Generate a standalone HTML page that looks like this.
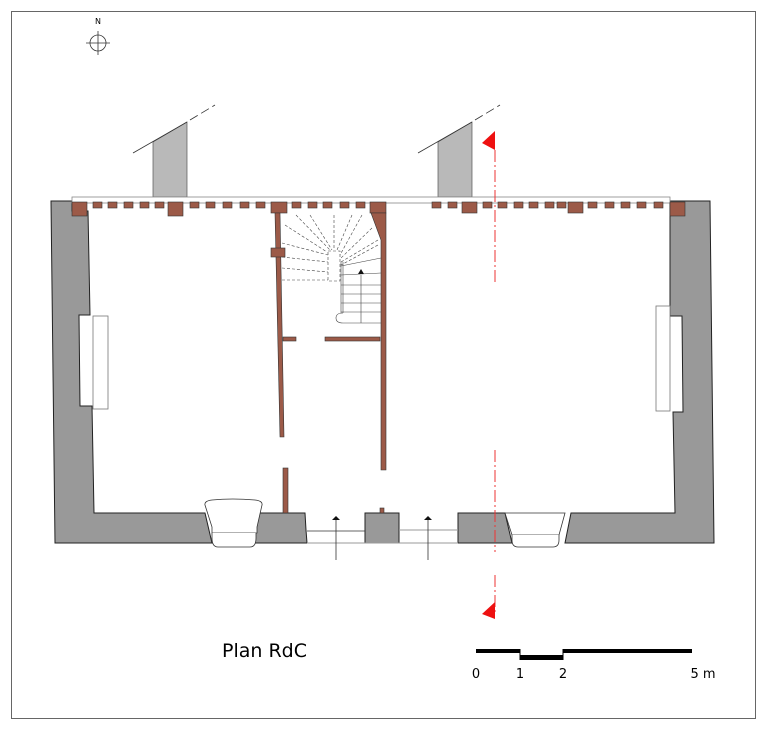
<!DOCTYPE html><html><head><style>body{margin:0;background:#fff}svg{display:block}text{font-family:"DejaVu Sans","Liberation Sans",sans-serif}</style></head><body>
<svg width="768" height="731" viewBox="0 0 768 731" xmlns="http://www.w3.org/2000/svg">
<rect x="11.5" y="11.5" width="744" height="707" fill="#fff" stroke="#666" stroke-width="1"/>
<!-- compass -->
<text x="98" y="24" font-size="8" text-anchor="middle">N</text>
<circle cx="98" cy="43" r="8" fill="none" stroke="#333" stroke-width="0.8"/>
<line x1="86" y1="43" x2="110" y2="43" stroke="#333" stroke-width="0.8"/><line x1="98" y1="31" x2="98" y2="55" stroke="#333" stroke-width="0.8"/>
<!-- chimneys -->
<polygon points="153,142 187,122 187,197 153,197" fill="#b9b9b9" stroke="#555" stroke-width="0.7"/>
<line x1="133" y1="153" x2="187" y2="122" stroke="#333" stroke-width="0.8"/>
<line x1="190" y1="120" x2="215" y2="105" stroke="#333" stroke-width="0.8" stroke-dasharray="9,4"/>
<polygon points="438,142 472,122 472,197 438,197" fill="#b9b9b9" stroke="#555" stroke-width="0.7"/>
<line x1="418" y1="153" x2="472" y2="122" stroke="#333" stroke-width="0.8"/>
<line x1="475" y1="120" x2="500" y2="105" stroke="#333" stroke-width="0.8" stroke-dasharray="9,4"/>
<!-- walls -->
<polygon points="51,201 72,201 72,211 88,211 90,315 79,315 80,406 92,406 94,513 205,513 212,543 55,543" fill="#999" stroke="#222" stroke-width="1"/>
<polygon points="670,201 710,201 714,543 565,543 571,513 675,513 673,412 683,412 682,316 670,316" fill="#999" stroke="#222" stroke-width="1"/>
<polygon points="257,513 305,513 306,530 307,543 250,543" fill="#999" stroke="#222" stroke-width="1"/>
<rect x="365" y="513" width="34" height="30" fill="#999" stroke="#222" stroke-width="1"/>
<polygon points="458,513 505,513 512,543 458,543" fill="#999" stroke="#222" stroke-width="1"/>
<line x1="307" y1="531" x2="365" y2="531" stroke="#333" stroke-width="0.8"/>
<line x1="399" y1="530" x2="458" y2="530" stroke="#999" stroke-width="1"/>
<line x1="307" y1="543" x2="458" y2="543" stroke="#999" stroke-width="1"/>
<!-- niches -->
<rect x="93" y="316" width="15" height="93" fill="#fff" stroke="#777" stroke-width="0.8"/>
<rect x="656" y="306" width="14" height="105" fill="#fff" stroke="#777" stroke-width="0.8"/>
<!-- windows -->
<path d="M205,505 Q204,501 212,500 Q232,498 255,500 Q263,501 262,505 L257,527 L257,533 L212,533 L212,527 Z" fill="#fff" stroke="#333" stroke-width="0.8"/>
<path d="M212,533 L212,538 Q212,547 218,547 L250,547 Q256,547 256,538 L256,533" fill="#fff" stroke="#333" stroke-width="0.8"/>
<path d="M505,513 L565,513 L559,535 L512,535 Z" fill="#fff" stroke="#333" stroke-width="0.8"/>
<path d="M512,535 L512,540 Q512,547 518,547 L553,547 Q559,547 559,540 L559,535" fill="#fff" stroke="#333" stroke-width="0.8"/>
<!-- beam strip -->
<rect x="72" y="197" width="598" height="6" fill="#fff" stroke="#888" stroke-width="0.8"/>
<g fill="#9c5a48" stroke="#333" stroke-width="0.6">
<rect x="72" y="202" width="15" height="14"/><rect x="168" y="202" width="15" height="14"/><rect x="271" y="202" width="16" height="11"/><rect x="370" y="202" width="16" height="11"/><rect x="462" y="202" width="15" height="11"/><rect x="568" y="202" width="15" height="11"/><rect x="670" y="202" width="15" height="14"/>
<rect x="93" y="202" width="9" height="6"/><rect x="108" y="202" width="9" height="6"/><rect x="124" y="202" width="9" height="6"/><rect x="140" y="202" width="9" height="6"/><rect x="155" y="202" width="9" height="6"/>
<rect x="190" y="202" width="9" height="6"/><rect x="206" y="202" width="9" height="6"/><rect x="223" y="202" width="9" height="6"/><rect x="240" y="202" width="9" height="6"/><rect x="256" y="202" width="9" height="6"/>
<rect x="292" y="202" width="9" height="6"/><rect x="308" y="202" width="9" height="6"/><rect x="323" y="202" width="9" height="6"/><rect x="340" y="202" width="9" height="6"/><rect x="356" y="202" width="9" height="6"/>
<rect x="432" y="202" width="9" height="6"/><rect x="448" y="202" width="9" height="6"/><rect x="483" y="202" width="9" height="6"/><rect x="498" y="202" width="9" height="6"/><rect x="514" y="202" width="9" height="6"/><rect x="529" y="202" width="9" height="6"/><rect x="545" y="202" width="9" height="6"/><rect x="557" y="202" width="9" height="6"/>
<rect x="588" y="202" width="9" height="6"/><rect x="605" y="202" width="9" height="6"/><rect x="621" y="202" width="9" height="6"/><rect x="637" y="202" width="9" height="6"/><rect x="654" y="202" width="9" height="6"/>
<!-- partitions -->
<polygon points="275,213 280,213 284,437 280,437" />
<rect x="271" y="248" width="14" height="9"/>
<rect x="283" y="337" width="13" height="4"/>
<rect x="325" y="337" width="55" height="4"/>
<rect x="283" y="468" width="5" height="45"/>
<polygon points="371,213 386,213 386,470 381,470 381,240 Q378,222 371,215"/>
<rect x="380" y="508" width="4" height="5"/>
</g>
<!-- stairs -->
<g stroke="#444" stroke-width="0.6" fill="none" stroke-dasharray="3,2">
<line x1="285" y1="225" x2="327" y2="252"/><line x1="296" y1="215" x2="330" y2="250"/><line x1="310" y1="215" x2="332" y2="250"/><line x1="334" y1="215" x2="334" y2="250"/><line x1="352" y1="215" x2="337" y2="250"/><line x1="362" y1="215" x2="340" y2="255"/><line x1="372" y1="228" x2="341" y2="258"/><line x1="378" y1="240" x2="341" y2="262"/><line x1="378" y1="245" x2="341" y2="265"/>
<line x1="282" y1="243" x2="328" y2="255"/><line x1="282" y1="257" x2="328" y2="262"/><line x1="282" y1="268" x2="328" y2="272"/><line x1="282" y1="280" x2="328" y2="280"/>
<rect x="328" y="251" width="12" height="30"/>
</g>
<g stroke="#444" stroke-width="0.6" fill="none">
<line x1="341" y1="266" x2="381" y2="258"/><line x1="341" y1="275" x2="381" y2="273"/><line x1="341" y1="285" x2="381" y2="285"/><line x1="341" y1="294" x2="381" y2="294"/><line x1="341" y1="303" x2="381" y2="303"/><line x1="341" y1="312" x2="381" y2="312"/>
<line x1="341" y1="262" x2="341" y2="313"/><line x1="343" y1="262" x2="343" y2="313"/>
<path d="M343,313 Q336,313 336,318 Q336,323 343,323 L381,323"/>
<line x1="361" y1="275" x2="361" y2="323"/>
</g>
<polygon points="361,269 358,274 364,274" fill="#111"/>
<!-- entry arrows -->
<line x1="336" y1="519" x2="336" y2="560" stroke="#333" stroke-width="0.8"/><polygon points="336,516 332,520 340,520" fill="#111"/>
<line x1="428" y1="519" x2="428" y2="560" stroke="#333" stroke-width="0.8"/><polygon points="428,516 424,520 432,520" fill="#111"/>
<!-- section line -->
<line x1="495" y1="150" x2="495" y2="283" stroke="#e33" stroke-width="1" stroke-dasharray="12,3,2,3"/>
<line x1="495" y1="450" x2="495" y2="552" stroke="#e33" stroke-width="1" stroke-dasharray="12,3,2,3"/>
<line x1="495" y1="575" x2="495" y2="615" stroke="#e33" stroke-width="1" stroke-dasharray="12,3,2,3"/>
<polygon points="495,131 495,150 482,143" fill="#e11"/>
<polygon points="495,602 495,619 482,614" fill="#e11"/>
<!-- title & scale -->
<text x="222" y="657" font-size="19">Plan RdC</text>
<rect x="476" y="649" width="44" height="4" fill="#000"/>
<rect x="520" y="655" width="43" height="5" fill="#000"/>
<rect x="563" y="649" width="129" height="4" fill="#000"/>
<line x1="520" y1="649" x2="520" y2="660" stroke="#000"/><line x1="563" y1="649" x2="563" y2="660" stroke="#000"/>
<text x="476" y="678" font-size="13" text-anchor="middle">0</text>
<text x="520" y="678" font-size="13" text-anchor="middle">1</text>
<text x="563" y="678" font-size="13" text-anchor="middle">2</text>
<text x="703" y="678" font-size="13" text-anchor="middle">5 m</text>
</svg></body></html>
